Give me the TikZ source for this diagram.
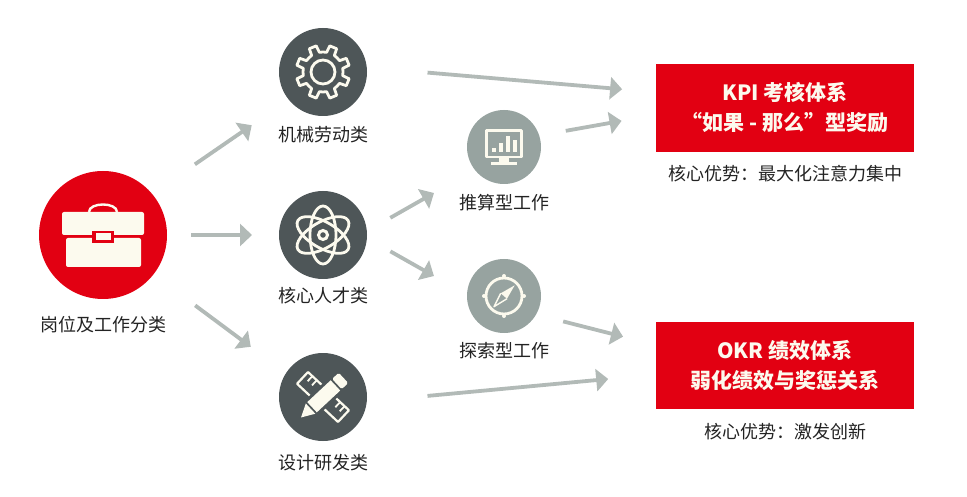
\documentclass[tikz,border=0pt]{standalone}
\usepackage{xcolor}
\usepackage{fontspec}
\setmainfont{Noto Sans CJK SC}
\usepackage{tikz}
\usetikzlibrary{arrows.meta,positioning}
\definecolor{mRed}{RGB}{226,0,18}
\definecolor{mDark}{RGB}{78,86,88}
\definecolor{mGrey}{RGB}{151,163,160}
\definecolor{mArrow}{RGB}{178,186,183}
\definecolor{mCream}{RGB}{252,250,238}
\definecolor{mText}{RGB}{35,35,35}
\tikzset{
redcircle/.style={circle,fill=mRed,minimum size=128pt,inner sep=0pt,outer sep=0pt},
darkcircle/.style={circle,fill=mDark,minimum size=88pt,inner sep=0pt,outer sep=0pt},
greycircle/.style={circle,fill=mGrey,minimum size=74pt,inner sep=0pt,outer sep=0pt},
redbox/.style={rectangle,fill=mRed,minimum width=258pt,minimum height=88pt,inner sep=0pt,outer sep=0pt,align=center,text=mCream,font=\fontsize{21pt}{30pt}\selectfont\bfseries},
caption/.style={inner sep=0pt,text=mText,font=\fontsize{18pt}{20pt}\selectfont},
arrow/.style={-{Triangle[length=12pt,width=22pt]},line width=3.8pt,draw=mArrow},
iconline/.style={draw=mCream,line width=2.8pt,line join=round},
iconfill/.style={fill=mCream}
}
\begin{document}
\begin{tikzpicture}[x=1pt,y=1pt]
\useasboundingbox (0,0) rectangle (967,496);
\node[redcircle] (job) at (103,261) {};
\node[darkcircle,right=112pt of job] (core) {};
\node[darkcircle,above=75pt of core] (mech) {};
\node[darkcircle,below=74pt of core] (design) {};
\node[greycircle,right=100pt of core,yshift=88pt] (calc) {};
\node[greycircle,right=100pt of core,yshift=-61pt] (explore) {};
\node[redbox,right=115pt of calc,yshift=39pt] (kpi) {KPI 考核体系\\“如果 - 那么”型奖励};
\node[redbox,right=115pt of explore,yshift=-69.5pt,minimum height=87pt] (okr) {OKR 绩效体系\\弱化绩效与奖惩关系};
\node[caption,below=17.5pt of job] (joblabel) {岗位及工作分类};
\node[caption,below=10pt of mech] (mechlabel) {机械劳动类};
\node[caption,below=8pt of core] (corelabel) {核心人才类};
\node[caption,below=13.5pt of design] (designlabel) {设计研发类};
\node[caption,below=10pt of calc] (calclabel) {推算型工作};
\node[caption,below=9.5pt of explore] (explorelabel) {探索型工作};
\node[caption,below=13.5pt of kpi] (kpilabel) {核心优势：最大化注意力集中};
\node[caption,below=14.5pt of okr] (okrlabel) {核心优势：激发创新};
\draw[arrow,shorten <=52pt,shorten >=45pt] (job.40)--(mech.219);
\draw[arrow,shorten <=24pt,shorten >=27pt] (job.east)--(core.west);
\draw[arrow,shorten <=52pt,shorten >=44pt] (job.-38)--(design.147);
\draw[arrow,shorten <=61pt,shorten >=34pt] (mech.6)--(kpi.173);
\draw[arrow,shorten <=27pt,shorten >=35pt] (calc.18)--(kpi.183);
\draw[arrow,shorten <=27pt,shorten >=47pt] (core.5)--(calc.218);
\draw[arrow,shorten <=27pt,shorten >=38pt] (core.-4)--(explore.178);
\draw[arrow,shorten <=28pt,shorten >=34pt] (explore.-30)--(okr.171);
\draw[arrow,shorten <=61pt,shorten >=48pt] (design.-6)--(okr.184);
\begin{scope}[shift={(job.center)}]
\fill[mCream,rounded corners=2pt] (-41,0) rectangle (41,23);
\fill[mCream,rounded corners=2pt] (-37,-3) rectangle (38,-32);
\draw[mCream,line width=2.4pt] (-14,23) .. controls (-14,33) and (14,33) .. (14,23);
\fill[mRed] (-11,4) rectangle (11,-8);
\fill[mCream] (-7,2) rectangle (8,-5);
\end{scope}
\begin{scope}[shift={(mech.center)}]
\draw[iconline] (4:20) \foreach \a in {22.5,67.5,...,337.5} {
  -- (\a-12:20) -- (\a-8:27) -- (\a+8:27) -- (\a+12:20) -- (\a+22.5:20)} -- cycle;
\draw[iconline] (0,0) circle (12pt);
\end{scope}
\begin{scope}[shift={(core.center)}]
\foreach \r in {90,30,150} {
  \draw[iconline,rotate=\r] (0,0) ellipse (29pt and 13pt);
}
\draw[mCream,line width=3pt] (0,0) circle (4.5pt);
\end{scope}
\begin{scope}[shift={(design.center)}]
\begin{scope}[rotate=-43]
\draw[iconline,line width=2.2pt] (-28,-8) rectangle (28,8);
\foreach \t in {-22,-16,16,22} {
  \draw[mCream,line width=1.8pt] (\t,8) -- (\t,1);
}
\end{scope}
\begin{scope}[rotate=43]
\fill[mDark] (-36,-10) rectangle (33,10);
\fill[mCream] (-30,0) -- (-17,-7) -- (-17,7) -- cycle;
\fill[mCream] (-15,-7) rectangle (17,7);
\fill[mCream,rounded corners=1.5pt] (19,-7) rectangle (28,7);
\end{scope}
\end{scope}
\begin{scope}[shift={(calc.center)}]
\draw[iconline] (-17.3,-10) rectangle (17.3,16.7);
\fill[mCream] (-11.7,-5) rectangle (-7.7,-0.7);
\fill[mCream] (-5,-5) rectangle (-1,4);
\fill[mCream] (1.7,-5) rectangle (5.7,10.7);
\fill[mCream] (9,-5) rectangle (13,7.3);
\fill[mCream] (-5,-11) rectangle (5,-15);
\fill[mCream] (-12.7,-15) rectangle (12.7,-17.7);
\end{scope}
\begin{scope}[shift={(explore.center)}]
\draw[iconline] (0,0) circle (18pt);
\foreach \a in {0,90,180,270} {
  \fill[mCream] (\a:20) circle (2pt);
}
\fill[mCream] (10.7,10.7) -- (3,-2.7) -- (-3.3,2.7) -- cycle;
\draw[mCream,line width=1.4pt,line join=round] (3,-2.7) -- (-10,-10.7) -- (-3.3,2.7);
\end{scope}
\end{tikzpicture}
\end{document}
